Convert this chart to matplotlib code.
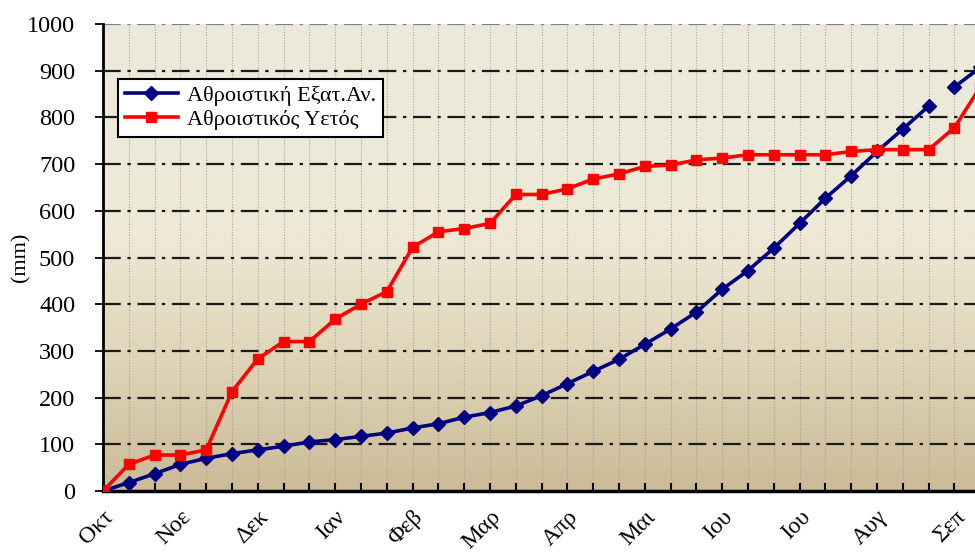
import numpy as np
import matplotlib
matplotlib.use("Agg")
import matplotlib.pyplot as plt
from matplotlib.colors import LinearSegmentedColormap

months = ['Οκτ', 'Νοε', 'Δεκ', 'Ιαν', 'Φεβ', 'Μαρ', 'Απρ', 'Μαι', 'Ιου', 'Ιου', 'Αυγ', 'Σεπ']

evap = [0, 18, 37, 57, 70, 80, 88, 96, 105, 110, 117, 124, 135, 144, 158, 168,
        182, 204, 230, 256, 282, 314, 347, 383, 432, 472, 520, 573, 627, 675,
        727, 775, 824, 865, 907]
rain = [0, 57, 77, 77, 88, 213, 283, 320, 320, 368, 400, 427, 522, 555, 562, 573,
        635, 635, 647, 668, 679, 695, 698, 709, 713, 720, 720, 720, 720, 727,
        731, 731, 731, 778, 865]

yticks = list(range(0, 1001, 100))

serif = ['Liberation Serif', 'DejaVu Serif']
plt.rcParams['font.family'] = serif

W, H = 975, 553
fig = plt.figure(figsize=(W / 100, H / 100), dpi=100)
step = 25.8
ax_left, ax_top, ax_bottom = 103, 24, 491
n_int = 36
axw = n_int * step
ax = fig.add_axes([ax_left / W, 1 - ax_bottom / H, axw / W, (ax_bottom - ax_top) / H])
ax.set_xlim(0, n_int)
ax.set_ylim(0, 1000)

# background gradient
cmap = LinearSegmentedColormap.from_list('bg', [
    (0.0, '#CBBB97'), (0.3, '#E0D6BA'), (0.55, '#EEE9D6'), (1.0, '#ECE9DD')])
grad = np.linspace(0, 1, 256).reshape(-1, 1)
ax.imshow(grad, cmap=cmap, origin='lower', extent=[0, 1, 0, 1],
          transform=ax.transAxes, aspect='auto', zorder=0)

# grids
for xv in range(0, n_int + 1):
    ax.axvline(xv, color='#A8A294', lw=0.8, ls=(0, (1, 1.5)), zorder=1)
for yv in yticks[1:]:
    ax.axhline(yv, color='#1a1a1a' if yv < 1000 else '#808080', lw=1.6,
               ls=(0, (8, 3, 1.5, 3)), zorder=1)

x = np.arange(len(evap))
# evaporation drawn in two pieces (break in the original line)
ax.plot(x[:33], evap[:33], color='#000080', lw=2.6, marker='D', ms=7,
        zorder=3, label='Αθροιστική Εξατ.Αν.')
ax.plot(x[33:], evap[33:], color='#000080', lw=2.6, marker='D', ms=7, zorder=3)
ax.plot(x, rain, color='#FF0000', lw=2.6, marker='s', ms=7.5, zorder=3,
        label='Αθροιστικός Υετός')

ax.set_yticks(yticks)
ax.set_xticks(range(0, n_int + 1))
labels = []
for i in range(0, n_int + 1):
    labels.append(months[i // 3] if i % 3 == 0 and i // 3 < len(months) else '')
ax.set_xticklabels(labels, rotation=45, ha='right', rotation_mode='anchor', fontsize=17)
ax.tick_params(axis='x', direction='in', length=6, width=1.5, pad=11)
ax.tick_params(axis='y', direction='out', length=6, width=1.3, pad=14, labelsize=17.5)
ax.set_ylabel('(mm)', fontsize=16)
ax.yaxis.set_label_coords((30 - ax_left) / axw, (ax_bottom - 257) / 467)

for s in ['top', 'right']:
    ax.spines[s].set_visible(False)
ax.spines['left'].set_linewidth(2)
ax.spines['bottom'].set_linewidth(2.5)

leg = ax.legend(loc='upper left', bbox_to_anchor=(15 / axw, 1 - (79 - 24) / 467),
                fontsize=16, frameon=True, fancybox=False, framealpha=1,
                edgecolor='black', borderpad=0.3, handlelength=2.4, labelspacing=0.15,
                handletextpad=0.4, borderaxespad=0)
leg.get_frame().set_linewidth(1.5)
leg.set_zorder(5)

fig.savefig('out.png', dpi=100)
